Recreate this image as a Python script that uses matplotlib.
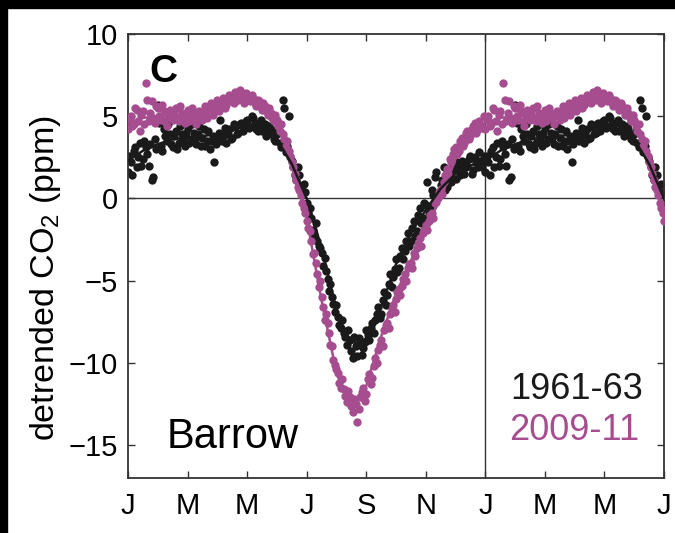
import numpy as np
import matplotlib.pyplot as plt
from matplotlib.patches import Rectangle

plt.rcParams['font.family'] = ['Liberation Sans', 'DejaVu Sans']
plt.rcParams['mathtext.fontset'] = 'custom'
plt.rcParams['mathtext.rm'] = 'Liberation Sans'
plt.rcParams['mathtext.default'] = 'regular'

# cores
cor_antigo = '#1a1a1a'
cor_novo = '#a64d8f'

# eixo x em meses (0 = 1 jan), pontos a cada ~3 dias, duas series intercaladas
meses_a = np.arange(120) * 0.1
meses_b = np.arange(120) * 0.1 + 0.05

# 1961-63, pontos destendenciados (ppm)
co2_1961_a = [1.6, 2.2, 2.9, 1.9, 3.4, 2.4, 3.1, 2.0, 1.1, 3.6,
              5.7, 3.2, 4.2, 3.5, 3.9, 3.1, 4.1, 3.4, 3.9, 3.2,
              4.3, 3.6, 4.0, 3.3, 4.4, 3.7, 3.2, 4.1, 3.5, 2.2,
              3.6, 4.8, 3.8, 3.4, 4.2, 3.7, 4.4, 4.0, 4.6, 4.3,
              4.8, 4.4, 4.9, 4.2, 4.6, 4.1, 4.5, 3.9, 4.2, 3.6,
              3.9, 3.4, 6.0, 2.8, 5.0, 2.3, 1.4, 1.9, 0.6, 0.9,
              -0.3, -0.6, -1.9, -1.5, -2.9, -3.3, -3.6, -4.9, -5.2, -6.4,
              -6.5, -7.7, -7.4, -8.4, -8.0, -9.3, -8.4, -9.6, -8.7, -9.1,
              -8.0, -8.6, -7.6, -7.4, -6.6, -7.0, -5.7, -5.9, -4.6, -4.8,
              -3.7, -4.2, -3.0, -3.2, -2.1, -2.6, -1.4, -2.0, -0.6, -1.2,
              -0.4, -0.9, 0.5, 1.3, 0.2, 0.8, 1.9, 0.7, 1.4, 2.1,
              1.2, 1.8, 2.3, 1.5, 2.0, 2.6, 1.7, 2.2, 2.8, 1.9]
co2_1961_b = [2.6, 1.4, 3.1, 2.5, 2.0, 3.5, 2.7, 3.3, 1.3, 3.0,
              4.6, 2.9, 3.8, 4.5, 3.3, 3.8, 3.0, 4.4, 3.6, 4.0,
              3.4, 4.5, 3.7, 3.9, 3.2, 4.2, 3.5, 3.0, 3.8, 3.3,
              4.0, 3.5, 4.3, 3.9, 3.6, 4.5, 3.9, 4.5, 4.1, 4.7,
              4.3, 5.0, 4.5, 4.1, 4.8, 4.3, 3.8, 4.4, 3.9, 3.5,
              4.1, 3.1, 5.5, 3.2, 2.5, 1.9, 1.1, 1.4, 0.2, 0.4,
              -0.9, -1.2, -2.2, -2.6, -3.0, -4.1, -4.4, -5.6, -6.0, -6.9,
              -7.2, -7.9, -8.2, -8.9, -8.6, -9.7, -9.0, -8.5, -9.5, -8.7,
              -8.3, -7.9, -8.2, -7.0, -7.3, -6.2, -6.5, -5.2, -5.4, -4.3,
              -4.5, -3.5, -3.7, -2.6, -2.9, -1.8, -2.3, -1.0, -1.5, -0.3,
              1.0, -0.5, 0.2, 1.6, 0.4, 1.1, 0.5, 1.7, 1.0, 1.8,
              2.2, 1.4, 2.1, 1.9, 2.4, 1.5, 2.5, 1.9, 2.3, 2.6]

# 2009-11, pontos destendenciados (ppm)
co2_2009_a = [4.2, 5.0, 4.5, 5.4, 4.1, 5.3, 7.0, 4.7, 5.9, 4.6,
              5.5, 4.8, 5.3, 4.4, 5.4, 4.8, 5.5, 4.7, 5.2, 4.6,
              5.4, 4.9, 5.1, 4.5, 5.3, 4.8, 5.6, 5.2, 5.8, 5.4,
              6.0, 5.5, 6.1, 5.7, 6.3, 5.9, 6.5, 6.0, 6.4, 5.8,
              6.2, 5.9, 6.1, 5.6, 5.9, 5.4, 5.6, 5.1, 5.2, 4.7,
              4.8, 4.1, 3.9, 3.2, 2.9, 2.2, 1.5, 0.7, 0.2, -0.6,
              -1.4, -2.0, -3.4, -3.9, -5.4, -6.0, -7.4, -7.6, -8.9, -9.8,
              -10.4, -11.2, -11.0, -12.0, -11.7, -12.6, -12.2, -13.6, -12.1, -11.5,
              -11.9, -10.7, -10.9, -9.7, -9.2, -8.6, -8.0, -7.6, -7.0, -6.5,
              -6.1, -5.5, -5.3, -4.6, -4.2, -3.9, -3.3, -3.0, -2.4, -2.1,
              -1.6, -1.4, -0.9, -0.3, 0.0, 0.6, 1.0, 1.8, 2.4, 2.7,
              3.1, 2.9, 3.7, 3.4, 4.1, 3.8, 4.4, 4.0, 4.7, 4.3]
co2_2009_b = [4.8, 4.4, 5.5, 4.7, 5.1, 4.5, 6.0, 5.2, 4.9, 5.6,
              5.0, 5.7, 4.7, 5.1, 4.9, 5.2, 4.9, 5.6, 4.8, 5.1,
              4.7, 5.5, 4.9, 5.2, 5.0, 5.3, 4.9, 5.5, 5.1, 5.7,
              5.3, 5.9, 5.5, 6.0, 6.2, 5.8, 6.2, 6.6, 6.1, 6.4,
              6.0, 6.3, 5.8, 6.0, 5.6, 5.8, 5.3, 5.5, 4.9, 5.1,
              4.4, 4.5, 3.6, 3.5, 2.6, 1.9, 1.1, 0.5, -0.3, -0.9,
              -1.8, -2.6, -3.3, -4.6, -5.0, -6.6, -7.0, -8.2, -9.0, -10.1,
              -10.6, -11.5, -11.6, -12.4, -12.1, -13.0, -12.5, -12.8, -11.8, -12.3,
              -11.0, -11.3, -10.2, -10.0, -8.9, -9.0, -7.7, -7.9, -6.7, -6.9,
              -5.7, -5.9, -4.9, -5.0, -4.0, -4.2, -3.5, -2.8, -2.9, -1.9,
              -1.9, -1.0, -1.2, -0.2, 0.4, 0.3, 1.4, 1.5, 2.2, 3.0,
              2.7, 3.5, 3.2, 4.0, 3.6, 4.2, 4.6, 4.2, 4.4, 5.0]

# curvas ajustadas
meses_curva = [0, 0.5, 1, 1.5, 2, 2.5, 3, 3.5, 4, 4.5, 5, 5.5, 6, 6.5, 7,
               7.25, 7.5, 7.75, 8, 8.5, 9, 9.5, 10, 10.5, 11, 11.5, 12]
curva_1961 = [2.3, 2.9, 3.3, 3.6, 3.7, 3.8, 3.9, 4.1, 4.5, 4.4, 3.6, 2.1, 0.0,
              -3.0, -6.8, -8.0, -8.7, -8.8, -8.5, -6.6, -4.0, -2.1, -0.7, 0.6,
              1.5, 2.0, 2.3]
curva_2009 = [4.6, 4.9, 5.0, 5.0, 5.0, 5.1, 5.5, 6.0, 6.1, 5.6, 4.6, 2.4, -1.2,
              -6.2, -10.6, -11.8, -12.3, -12.1, -11.4, -8.4, -5.8, -3.8, -1.8, 0.0,
              2.4, 3.9, 4.6]

rotulos_x = ['J', 'M', 'M', 'J', 'S', 'N', 'J', 'M', 'M', 'J']


def estender(x, y, ate=6.05):
    # repete o primeiro semestre depois de dezembro
    x = np.asarray(x, dtype=float)
    y = np.asarray(y, dtype=float)
    sel = x < ate
    return np.concatenate([x, x[sel] + 12]), np.concatenate([y, y[sel]])


fig = plt.figure(figsize=(6.75, 5.33), dpi=100)
fig.patches.append(Rectangle((0, 1 - 8 / 533), 1, 8 / 533, transform=fig.transFigure,
                             color='black', zorder=0))
fig.patches.append(Rectangle((0, 0), 7 / 675, 1, transform=fig.transFigure,
                             color='black', zorder=0))

ax = fig.add_axes([128 / 675, 1 - 478 / 533, 536 / 675, 444 / 533])

for m, v in [(meses_a, co2_1961_a), (meses_b, co2_1961_b)]:
    x, y = estender(m, v)
    ax.scatter(x, y, s=36, color=cor_antigo, linewidths=0, zorder=2)
for m, v in [(meses_a, co2_2009_a), (meses_b, co2_2009_b)]:
    x, y = estender(m, v)
    ax.scatter(x, y, s=36, color=cor_novo, linewidths=0, zorder=3)

n = len(meses_curva)
cx2, cy2 = estender(meses_curva, curva_2009, 6.01)
cx1, cy1 = estender(meses_curva, curva_1961, 6.01)
for cx, cy, cor, z in [(cx2, cy2, cor_novo, 4), (cx1, cy1, cor_antigo, 5)]:
    ax.plot(cx[:n], cy[:n], color=cor, lw=1.8, zorder=z)
    ax.plot(cx[n:], cy[n:], color=cor, lw=1.8, zorder=z)

ax.axhline(0, color='#333333', lw=1.0, zorder=1)
ax.axvline(12, color='#333333', lw=1.0, zorder=1)

ax.set_xlim(0, 18)
ax.set_ylim(-17, 10)
ax.set_xticks(np.arange(0, 19, 2))
ax.set_xticklabels(rotulos_x)
ax.set_yticks([-15, -10, -5, 0, 5, 10])
ax.tick_params(direction='in', top=True, right=True, length=5, width=1,
               color='#333333', labelsize=21)
ax.tick_params(axis='x', pad=10)
ax.tick_params(axis='y', pad=7)
for s in ax.spines.values():
    s.set_linewidth(1.3)
    s.set_color('#333333')

ax.set_ylabel('detrended CO$_2$ (ppm)', fontsize=24.5)
ax.yaxis.set_label_coords(-0.122, 0.45)

ax.text(1.2, 7.7, 'C', fontsize=28, fontweight='bold', ha='center', va='center')
ax.text(1.3, -15.2, 'Barrow', fontsize=30, ha='left', va='baseline')
ax.text(15.05, -11.6, '1961-63', fontsize=26, color=cor_antigo, ha='center', va='center')
ax.text(15.0, -14.1, '2009-11', fontsize=26, color=cor_novo, ha='center', va='center')

fig.savefig('out.png', dpi=100)
